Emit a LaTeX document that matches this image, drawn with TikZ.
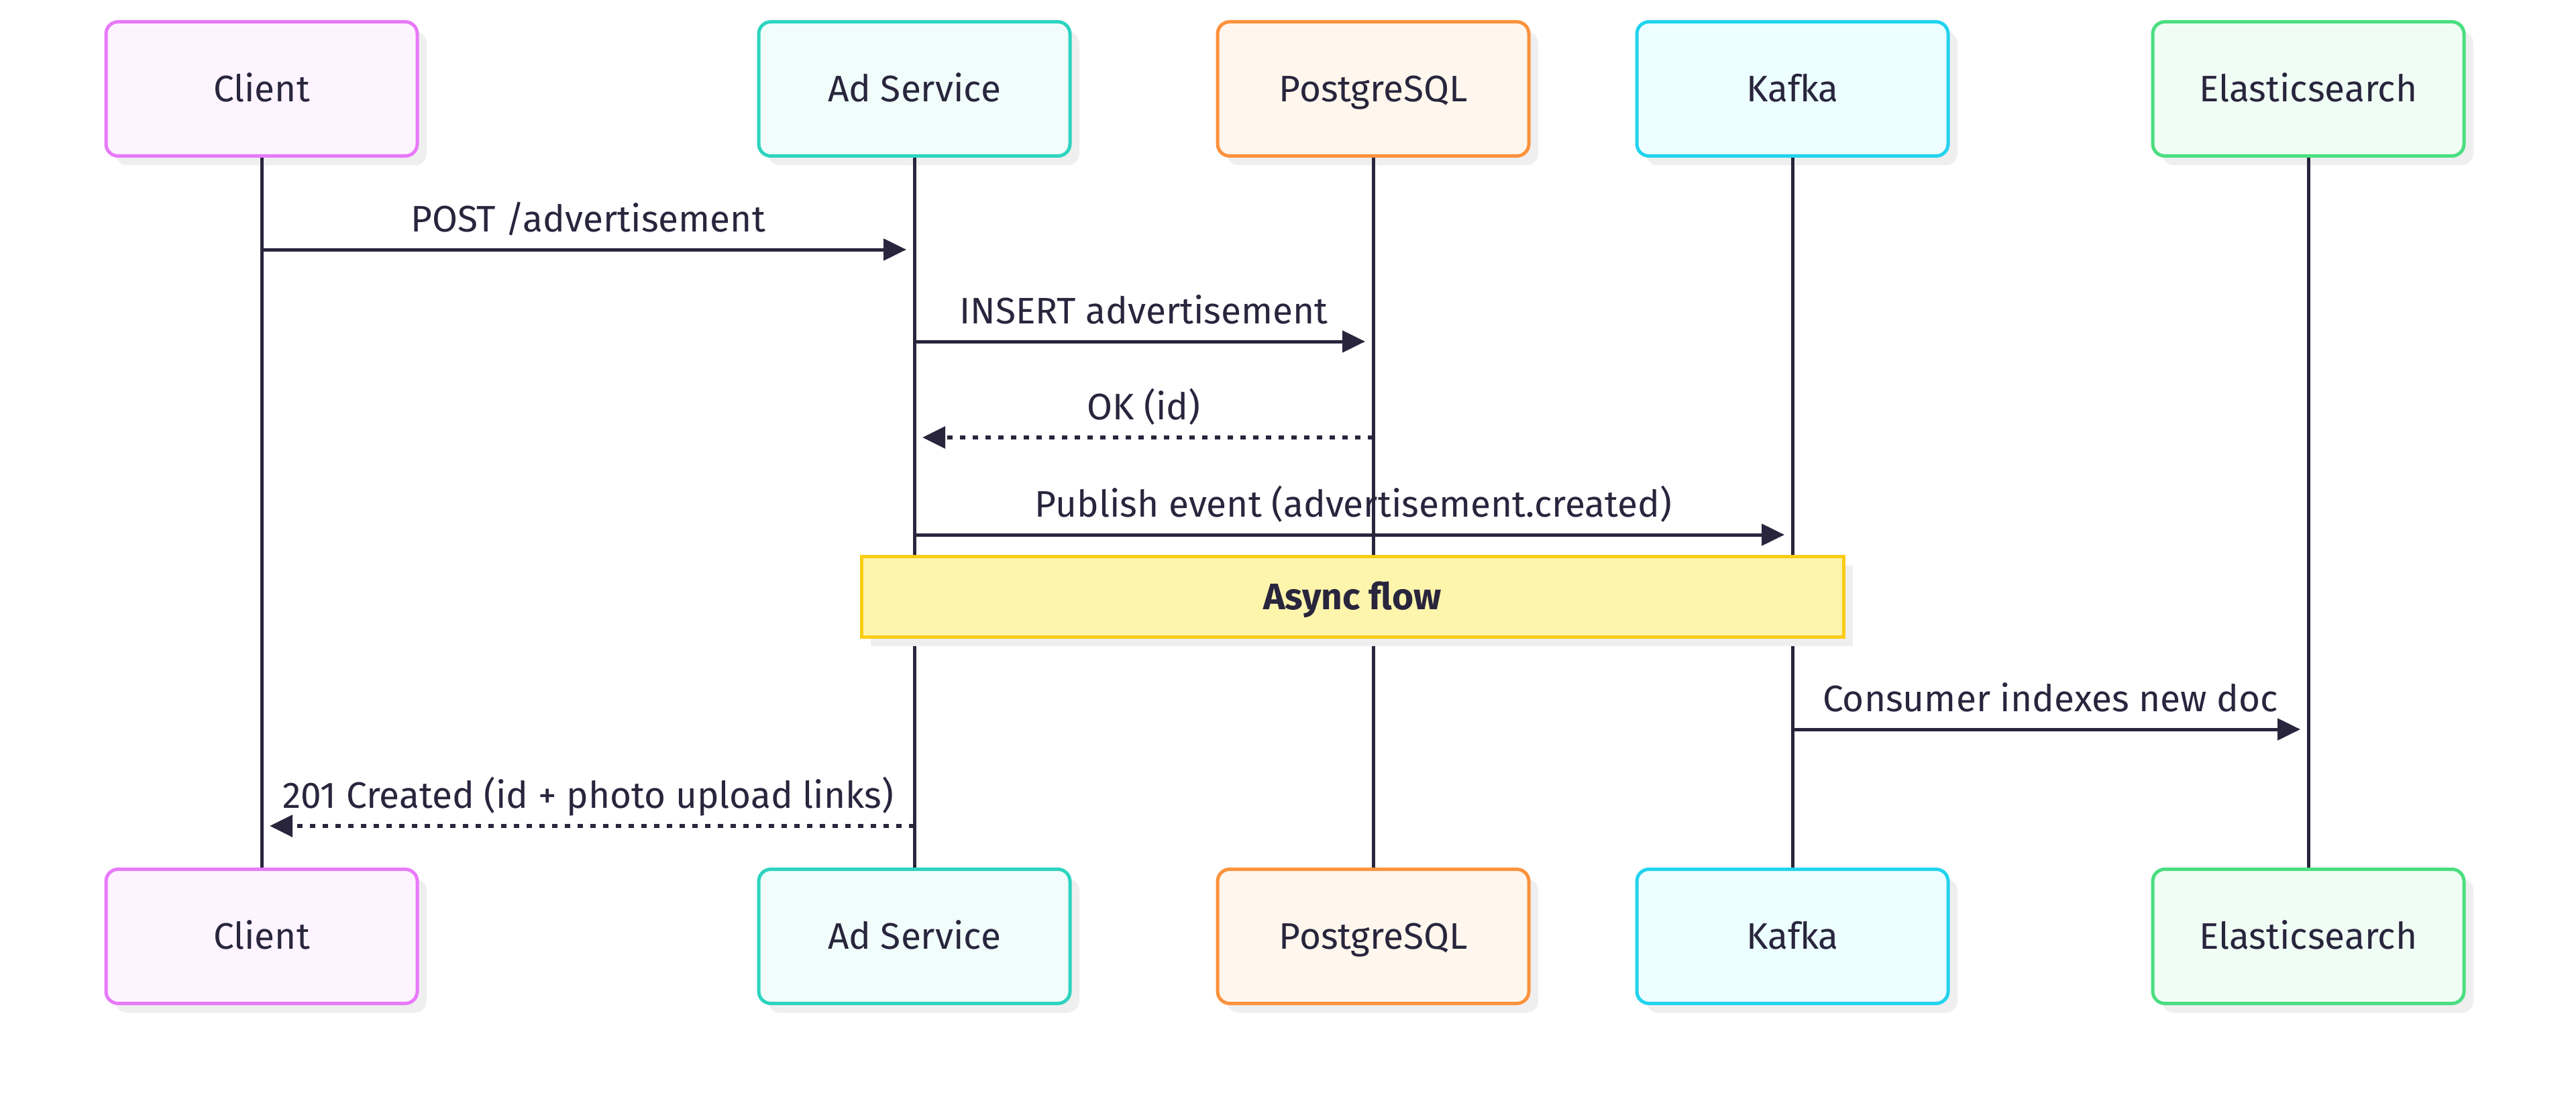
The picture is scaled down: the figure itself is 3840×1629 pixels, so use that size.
\documentclass[tikz,border=0pt]{standalone}
\usepackage{fontspec}
\setmainfont{Fira Sans}
\usetikzlibrary{arrows.meta,shadows}
\definecolor{ink}{HTML}{28253D}
\definecolor{shadowc}{HTML}{EFEFEF}
\definecolor{clientS}{HTML}{E879F9}\definecolor{clientF}{HTML}{FDF4FF}
\definecolor{adS}{HTML}{2DD4BF}\definecolor{adF}{HTML}{F0FDFA}
\definecolor{pgS}{HTML}{FB923C}\definecolor{pgF}{HTML}{FFF7ED}
\definecolor{kfS}{HTML}{22D3EE}\definecolor{kfF}{HTML}{ECFEFF}
\definecolor{esS}{HTML}{4ADE80}\definecolor{esF}{HTML}{F0FDF4}
\definecolor{noteS}{HTML}{FACC15}\definecolor{noteF}{HTML}{FEF5AD}
\newcommand{\lblfont}{\fontsize{55}{65}\selectfont}
\begin{document}
\begin{tikzpicture}[x=1pt,y=-1pt,
  actorbox/.style n args={2}{draw=#1, fill=#2, line width=5pt, rounded corners=18pt,
    minimum width=464pt, minimum height=200pt, text=ink, font=\lblfont,
    text height=38pt, text depth=0pt,
    drop shadow={shadow xshift=14pt, shadow yshift=-14pt, fill=shadowc, opacity=1}},
  notebox/.style={draw=noteS, fill=noteF, line width=5pt,
    minimum width=1464pt, minimum height=120pt, text=ink, font=\lblfont\bfseries,
    text height=38pt, text depth=0pt,
    drop shadow={shadow xshift=14pt, shadow yshift=-14pt, fill=shadowc, opacity=1}},
  life/.style={draw=ink, line width=5pt},
  msg/.style={draw=ink, line width=5pt, -{Triangle[length=34pt,width=32pt]}, shorten >=12pt},
  reply/.style={msg, line width=6pt, dash pattern=on 8pt off 11pt},
  lbl/.style={midway, anchor=base, yshift=27pt, text=ink, font=\lblfont, inner sep=0pt}
]
\useasboundingbox[fill=white] (0,0) rectangle (3840,1629);

% top participants
\node[actorbox={clientS}{clientF}] (cT) at (390,132.5) {Client};
\node[actorbox={adS}{adF}] (aT) at (1363,132.5) {Ad Service};
\node[actorbox={pgS}{pgF}] (pT) at (2047,132.5) {PostgreSQL};
\node[actorbox={kfS}{kfF}] (kT) at (2672,132.5) {Kafka};
\node[actorbox={esS}{esF}] (eT) at (3441,132.5) {Elasticsearch};
% bottom participants
\node[actorbox={clientS}{clientF}] (cB) at (390,1395.5) {Client};
\node[actorbox={adS}{adF}] (aB) at (1363,1395.5) {Ad Service};
\node[actorbox={pgS}{pgF}] (pB) at (2047,1395.5) {PostgreSQL};
\node[actorbox={kfS}{kfF}] (kB) at (2672,1395.5) {Kafka};
\node[actorbox={esS}{esF}] (eB) at (3441,1395.5) {Elasticsearch};

% lifelines
\draw[life] (cT) -- (cB);
\draw[life] (aT) -- (aB);
\draw[life] (pT) -- (pB);
\draw[life] (kT) -- (kB);
\draw[life] (eT) -- (eB);

% message levels
\coordinate (m1) at (0,372);
\coordinate (m2) at (0,509);
\coordinate (m3) at (0,652);
\coordinate (m4) at (0,797);
\coordinate (m5) at (0,1087);
\coordinate (m6) at (0,1231);

\draw[msg] (cT |- m1) -- (aT |- m1) node[lbl] {POST /advertisement};
\draw[msg] (aT |- m2) -- (pT |- m2) node[lbl] {INSERT advertisement};
\draw[reply] (pT |- m3) -- (aT |- m3) node[lbl] {OK (id)};
\draw[msg] (aT |- m4) -- (kT |- m4) node[lbl] {Publish event (advertisement.created)};

\node[notebox] (async) at (2016,889) {Async flow};

\draw[msg] (kT |- m5) -- (eT |- m5) node[lbl] {Consumer indexes new doc};
\draw[reply] (aT |- m6) -- (cT |- m6) node[lbl] {201 Created (id + photo upload links)};
\end{tikzpicture}
\end{document}
